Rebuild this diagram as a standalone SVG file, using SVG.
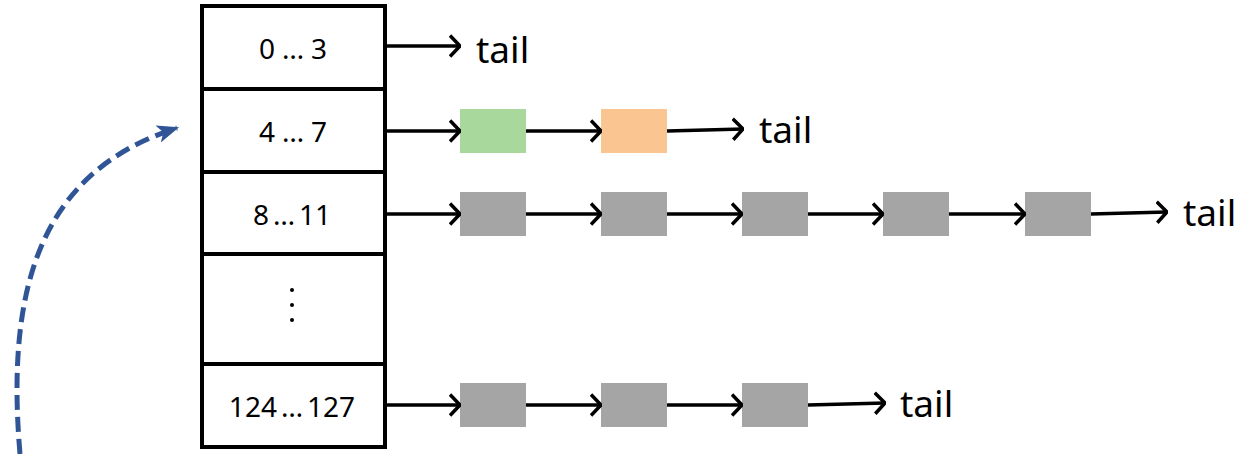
<svg xmlns="http://www.w3.org/2000/svg" width="1242" height="454" viewBox="0 0 1242 454">
<style>
.cell{fill:#fff;stroke:#000;stroke-width:4}
.lbl{font-family:"Noto Sans","Liberation Sans",sans-serif;font-size:28px;fill:#000;text-anchor:middle}
.tail{font-family:"Noto Sans","Liberation Sans",sans-serif;font-size:37px;fill:#000}
.ln{stroke:#000;stroke-width:3.5;fill:none;marker-end:url(#chev)}
.g{fill:#A5A5A5}
</style>
<defs>
<marker id="chev" viewBox="0 0 12 24" refX="11" refY="12" markerWidth="12" markerHeight="24" markerUnits="userSpaceOnUse" orient="auto">
<path d="M1 1.5 L11 12 L1 22.5" fill="none" stroke="#000" stroke-width="3.5" stroke-linejoin="miter"/>
</marker>
<marker id="blue" viewBox="0 0 20 20" refX="18" refY="10" markerWidth="22" markerHeight="22" markerUnits="userSpaceOnUse" orient="auto">
<path d="M0 2 L20 10 L0 18 L5 10 Z" fill="#2F5597"/>
</marker>
</defs>
<g id="table">
<g id="row0"><rect class="cell" x="202" y="6" width="183" height="83"/><text class="lbl" x="293" y="59"><tspan>0</tspan><tspan dx="7">…</tspan><tspan dx="7">3</tspan></text></g>
<g id="row1"><rect class="cell" x="202" y="89" width="183" height="83"/><text class="lbl" x="293" y="142"><tspan>4</tspan><tspan dx="7">…</tspan><tspan dx="7">7</tspan></text></g>
<g id="row2"><rect class="cell" x="202" y="172" width="183" height="82"/><text class="lbl" x="292" y="225"><tspan>8</tspan><tspan dx="4">…</tspan><tspan dx="4">11</tspan></text></g>
<g id="row3"><rect class="cell" x="202" y="254" width="183" height="110"/>
<circle cx="292" cy="290" r="2"/><circle cx="292" cy="305" r="2"/><circle cx="292" cy="320" r="2"/></g>
<g id="row4"><rect class="cell" x="202" y="364" width="183" height="83"/><text class="lbl" x="292" y="417"><tspan>124</tspan><tspan dx="4">…</tspan><tspan dx="4">127</tspan></text></g>
</g>
<g id="nodes">
<rect id="n1a" x="460" y="109" width="66" height="44" fill="#A8D89B"/>
<rect id="n1b" x="601" y="109" width="66" height="44" fill="#FAC591"/>
<rect id="n2a" class="g" x="460" y="192" width="66" height="44"/>
<rect id="n2b" class="g" x="601" y="192" width="66" height="44"/>
<rect id="n2c" class="g" x="742" y="192" width="66" height="44"/>
<rect id="n2d" class="g" x="883" y="192" width="66" height="44"/>
<rect id="n2e" class="g" x="1025" y="192" width="66" height="44"/>
<rect id="n4a" class="g" x="460" y="383" width="66" height="44"/>
<rect id="n4b" class="g" x="601" y="383" width="66" height="44"/>
<rect id="n4c" class="g" x="742" y="383" width="66" height="44"/>
</g>
<g id="tails">
<text class="tail" x="476" y="63">tail</text>
<text class="tail" x="759" y="143">tail</text>
<text class="tail" x="1183" y="226">tail</text>
<text class="tail" x="900" y="417">tail</text>
</g>
<g id="connectors">
<line class="ln" x1="387" y1="46" x2="460" y2="46"/>
<line class="ln" x1="387" y1="131" x2="460" y2="131"/>
<line class="ln" x1="526" y1="131" x2="601" y2="131"/>
<line class="ln" x1="667" y1="131" x2="743" y2="129"/>
<line class="ln" x1="387" y1="214" x2="460" y2="214"/>
<line class="ln" x1="526" y1="214" x2="601" y2="214"/>
<line class="ln" x1="667" y1="214" x2="742" y2="214"/>
<line class="ln" x1="808" y1="214" x2="883" y2="214"/>
<line class="ln" x1="949" y1="214" x2="1025" y2="214"/>
<line class="ln" x1="1091" y1="214" x2="1167" y2="212"/>
<line class="ln" x1="387" y1="405" x2="460" y2="405"/>
<line class="ln" x1="526" y1="405" x2="601" y2="405"/>
<line class="ln" x1="667" y1="405" x2="742" y2="405"/>
<line class="ln" x1="808" y1="405" x2="885" y2="403"/>
<path id="curve" d="M20 454 C5 280 45 170 177 128" fill="none" stroke="#2F5597" stroke-width="5" stroke-dasharray="15 7" marker-end="url(#blue)"/>
</g>
</svg>
